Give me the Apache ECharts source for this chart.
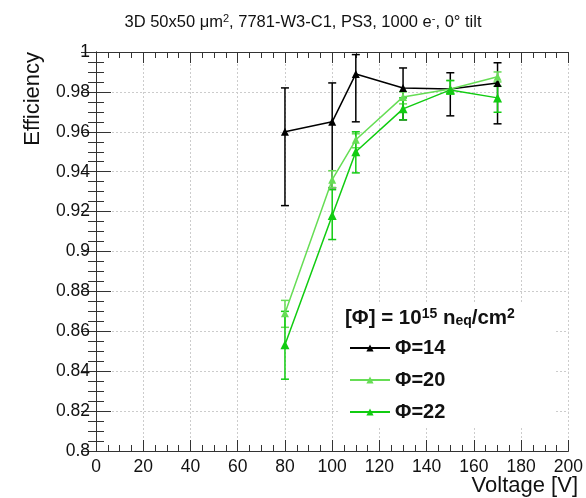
<!DOCTYPE html>
<html>
<head>
<meta charset="utf-8">
<script src="https://cdn.jsdelivr.net/npm/echarts@6/dist/echarts.min.js"></script>
<style>
html,body{margin:0;padding:0;background:#fff;}
#chart{width:586px;height:498px;}
</style>
</head>
<body>
<div id="chart"></div>
<script>
// ---- data ----
const voltages = [80, 100, 110, 130, 150, 170];

const eff14     = [0.960, 0.965, 0.989, 0.982, 0.9815, 0.9845];
const eff14Low  = [0.923, 0.932, 0.965, 0.966, 0.968, 0.964];
const eff14High = [0.982, 0.9845, 0.9987, 0.992, 0.9896, 0.9946];

const eff20     = [0.869, 0.936, 0.956, 0.9775, 0.9815, 0.9876];
const eff20Low  = [0.862, 0.932, 0.952, 0.974, 0.979, 0.985];
const eff20High = [0.8755, 0.9405, 0.959, 0.980, 0.9857, 0.990];

const eff22     = [0.8532, 0.918, 0.950, 0.9715, 0.981, 0.977];
const eff22Low  = [0.836, 0.906, 0.9394, 0.966, 0.979, 0.9698];
const eff22High = [0.870, 0.931, 0.960, 0.977, 0.9857, 0.9828];

const seriesNames = ['\u03A6=14', '\u03A6=20', '\u03A6=22'];
const xTickLabels = ['0','20','40','60','80','100','120','140','160','180','200'];
const yTickLabels = ['0.8','0.82','0.84','0.86','0.88','0.9','0.92','0.94','0.96','0.98','1'];

const colors = ['#000000', '#66dd55', '#11cc11'];
const FONT = 'Liberation Sans';

function pairs(ys) { return voltages.map((v, i) => [v, ys[i]]); }
function errs(lo, hi) { return voltages.map((v, i) => [v, lo[i], hi[i]]); }

function errRender(color) {
  return function (params, api) {
    const x = api.value(0);
    const p1 = api.coord([x, api.value(1)]);
    const p2 = api.coord([x, api.value(2)]);
    const hw = 4;
    const st = { stroke: color, lineWidth: 1.5 };
    return {
      type: 'group',
      children: [
        { type: 'line', shape: { x1: p1[0], y1: p1[1], x2: p2[0], y2: p2[1] }, style: st },
        { type: 'line', shape: { x1: p1[0] - hw, y1: p1[1], x2: p1[0] + hw, y2: p1[1] }, style: st },
        { type: 'line', shape: { x1: p2[0] - hw, y1: p2[1], x2: p2[0] + hw, y2: p2[1] }, style: st }
      ]
    };
  };
}

const chart = echarts.init(document.getElementById('chart'), null, { renderer: 'canvas' });

const axisLineStyle = { color: '#333', width: 1 };
const gridLine = { show: true, lineStyle: { color: '#cccccc', type: [2, 2], width: 1 } };

const option = {
  animation: false,
  backgroundColor: '#fff',
  textStyle: { fontFamily: FONT },
  grid: { left: 96, right: 14, top: 52, bottom: 47, containLabel: false },
  xAxis: [
    {
      type: 'value', min: 0, max: 200, interval: 20, position: 'bottom',
      axisLine: { show: true, lineStyle: axisLineStyle },
      axisTick: { show: true, inside: true, length: 11, lineStyle: axisLineStyle },
      minorTick: { show: true, splitNumber: 4, length: 6, lineStyle: axisLineStyle },
      splitLine: gridLine,
      axisLabel: {
        margin: 7, fontSize: 17.5, color: '#111', fontFamily: FONT,
        formatter: (v) => xTickLabels[Math.round(v / 20)]
      }
    },
    {
      type: 'value', min: 0, max: 200, interval: 20, position: 'top',
      axisLine: { show: true, lineStyle: axisLineStyle },
      axisTick: { show: true, inside: true, length: 11, lineStyle: axisLineStyle },
      minorTick: { show: true, splitNumber: 4, length: 6, lineStyle: axisLineStyle },
      splitLine: { show: false },
      axisLabel: { show: false }
    }
  ],
  yAxis: [
    {
      type: 'value', min: 0.8, max: 1, interval: 0.02, position: 'left',
      axisLine: { show: true, lineStyle: axisLineStyle },
      axisTick: { show: true, inside: true, length: 15, lineStyle: axisLineStyle },
      minorTick: { show: true, splitNumber: 4, length: 8, lineStyle: axisLineStyle },
      splitLine: gridLine,
      axisLabel: {
        margin: 6, fontSize: 17.5, color: '#111', fontFamily: FONT,
        formatter: (v) => yTickLabels[Math.round((v - 0.8) / 0.02)]
      }
    },
    {
      type: 'value', min: 0.8, max: 1, interval: 0.02, position: 'right',
      axisLine: { show: true, lineStyle: axisLineStyle },
      axisTick: { show: true, inside: true, length: 15, lineStyle: axisLineStyle },
      minorTick: { show: true, splitNumber: 4, length: 8, lineStyle: axisLineStyle },
      splitLine: { show: false },
      axisLabel: { show: false }
    }
  ],
  legend: {
    data: seriesNames,
    orient: 'vertical',
    left: 340, top: 302,
    padding: [36, 110, 5, 9],
    backgroundColor: '#fff',
    itemWidth: 40, itemHeight: 9, itemGap: 12,
    textStyle: { fontSize: 20, fontWeight: 'bold', color: '#111', fontFamily: FONT, lineHeight: 20 },
    selectedMode: false
  },
  graphic: [
    {
      type: 'text', z: 100, x: 303, y: 22,
      style: {
        text: '3D 50x50 \u03BCm{sup|2}, 7781-W3-C1, PS3, 1000 e{sup|-}, 0\u00B0 tilt',
        font: '16.5px "Liberation Sans"', fill: '#111',
        align: 'center', verticalAlign: 'middle',
        rich: { sup: { fontSize: 11, verticalAlign: 'top', fill: '#111', fontFamily: FONT } }
      }
    },
    {
      type: 'text', z: 100, x: 345, y: 318,
      style: {
        text: '[\u03A6] = 10{sup|15} n{sub|eq}/cm{sup|2}',
        font: 'bold 20.5px "Liberation Sans"', fill: '#111',
        align: 'left', verticalAlign: 'middle',
        rich: {
          sup: { fontSize: 14, fontWeight: 'bold', verticalAlign: 'top', fill: '#111', fontFamily: FONT },
          sub: { fontSize: 14, fontWeight: 'bold', verticalAlign: 'bottom', fill: '#111', fontFamily: FONT }
        }
      }
    },
    {
      type: 'text', z: 100, x: 33, y: 52, rotation: Math.PI / 2,
      style: { text: 'Efficiency', font: '22px "Liberation Sans"', fill: '#111', align: 'right', verticalAlign: 'middle' }
    },
    {
      type: 'text', z: 100, x: 578, y: 486,
      style: { text: 'Voltage [V]', font: '22px "Liberation Sans"', fill: '#111', align: 'right', verticalAlign: 'middle' }
    }
  ],
  series: [
    { type: 'custom', name: 'err14', renderItem: errRender(colors[0]), data: errs(eff14Low, eff14High), z: 3 },
    { type: 'custom', name: 'err20', renderItem: errRender(colors[1]), data: errs(eff20Low, eff20High), z: 3 },
    { type: 'custom', name: 'err22', renderItem: errRender(colors[2]), data: errs(eff22Low, eff22High), z: 3 },
    {
      type: 'line', name: seriesNames[0], data: pairs(eff14), symbol: 'triangle', symbolSize: 8,
      color: colors[0], lineStyle: { width: 1.5, color: colors[0] }, itemStyle: { color: colors[0] }, z: 4
    },
    {
      type: 'line', name: seriesNames[1], data: pairs(eff20), symbol: 'triangle', symbolSize: 8,
      color: colors[1], lineStyle: { width: 1.5, color: colors[1] }, itemStyle: { color: colors[1] }, z: 4
    },
    {
      type: 'line', name: seriesNames[2], data: pairs(eff22), symbol: 'triangle', symbolSize: 9,
      color: colors[2], lineStyle: { width: 1.5, color: colors[2] }, itemStyle: { color: colors[2] }, z: 4
    }
  ]
};

chart.setOption(option);
</script>
</body>
</html>
